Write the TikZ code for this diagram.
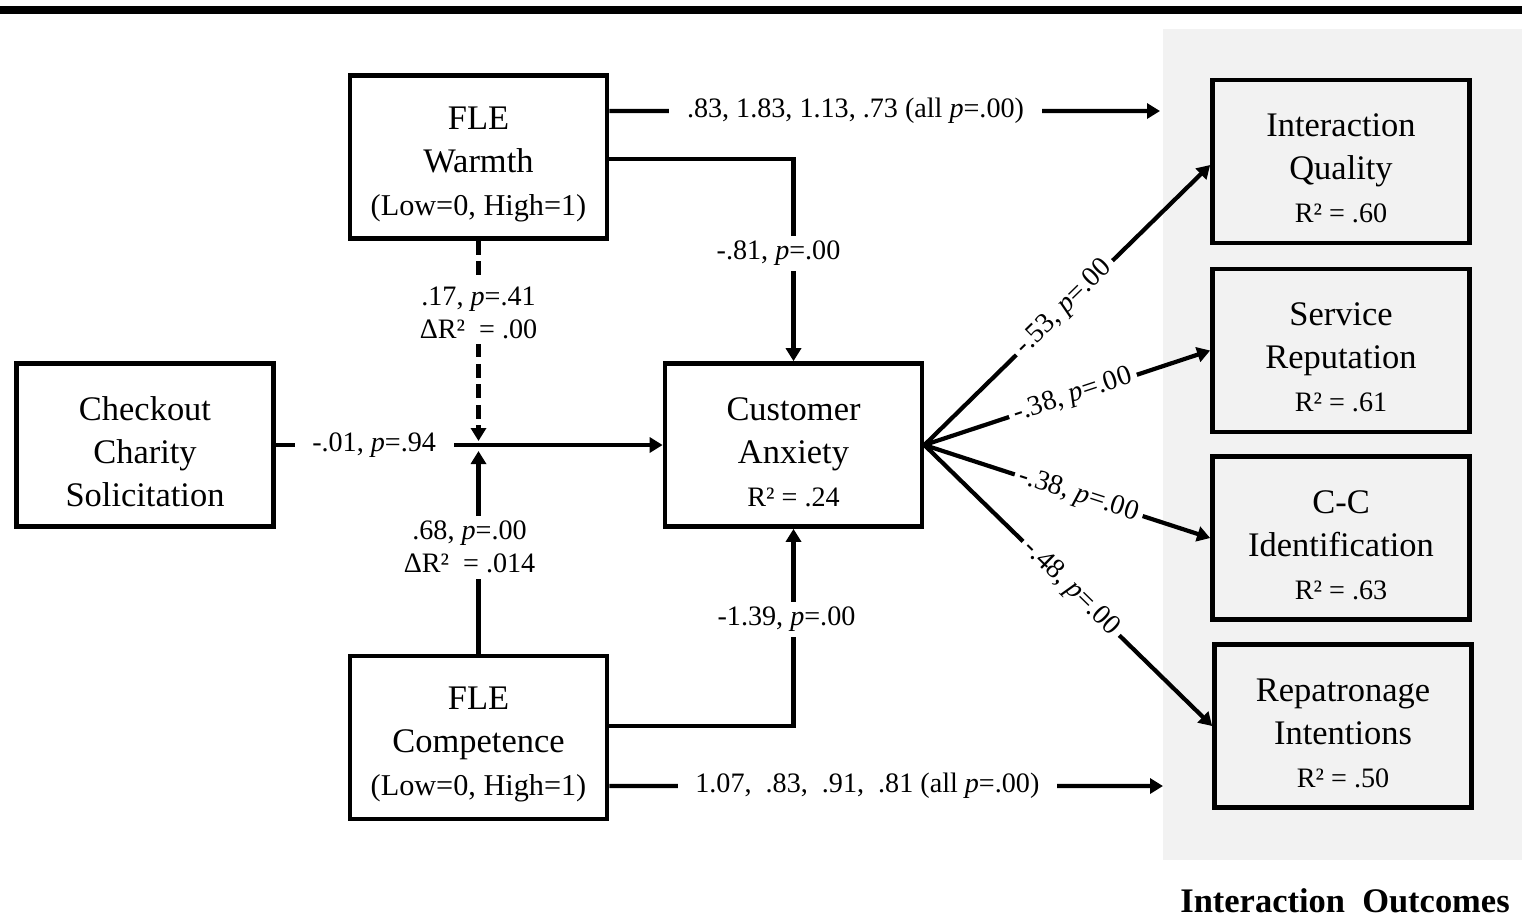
\documentclass[tikz,border=0pt]{standalone}
\usepackage{fontspec}
\setmainfont{Liberation Serif}
\usetikzlibrary{arrows.meta,calc}
\definecolor{panel}{RGB}{242,242,242}
\newcommand\myboxfont{\fontsize{9.8}{12.2}\selectfont}
\newcommand\mysubfont{\fontsize{8.6}{11}\selectfont}
\newcommand\myrfont{\fontsize{8}{11}\selectfont}
\newcommand\mylabfont{\fontsize{8}{9.4}\selectfont}
\newcommand\mytopstrut{\rule{0pt}{10.5pt}}
\begin{document}
\begin{tikzpicture}[x=0.01cm,y=-0.01cm,
  box/.style={draw, line width=1.3pt, minimum width=2.57cm, minimum height=1.63cm,
    align=center, font=\myboxfont, inner sep=0pt},
  conn/.style={line width=1.2pt},
  tip/.style={-{Triangle[length=0.13cm,width=0.15cm]}},
  lab/.style={fill=white, font=\mylabfont, align=center, inner xsep=5pt, inner ysep=1.5pt},
  slab/.style={fill=white, font=\mylabfont, sloped, inner xsep=1.5pt, inner ysep=1pt}]
\useasboundingbox (0,0) rectangle (1522,917);
\fill (0,6) rectangle (1522,14);
\fill[panel] (1163,29) rectangle (1522,860);

\node[box] (warmth) at (478.5,157) {\mytopstrut FLE\\Warmth\\{\mysubfont (Low=0, High=1)}};
\node[box] (checkout) at (145,445) {\mytopstrut Checkout\\Charity\\Solicitation};
\node[box] (anxiety) at (793.5,445) {\mytopstrut Customer\\Anxiety\\{\myrfont R² = .24}};
\node[box] (competence) at (478.5,737.5) {\mytopstrut FLE\\Competence\\{\mysubfont (Low=0, High=1)}};
\node[box] (iq) at (1341,161.5) {\mytopstrut Interaction\\Quality\\{\myrfont R² = .60}};
\node[box] (sr) at (1341,350.5) {\mytopstrut Service\\Reputation\\{\myrfont R² = .61}};
\node[box] (cc) at (1341,538) {\mytopstrut C-C\\Identification\\{\myrfont R² = .63}};
\node[box] (rp) at (1343,726) {\mytopstrut Repatronage\\Intentions\\{\myrfont R² = .50}};

\node[font=\fontsize{9.8}{12}\selectfont\bfseries] (outcomes) at (1345,901) {Interaction\ \ Outcomes};

\coordinate (topend) at (1160,111);
\coordinate (botend) at (1163,786);
\coordinate (Jt) at (478.5,441);
\coordinate (Jb) at (478.5,451);

% warmth -> outcomes
\draw[conn,tip] ([yshift=0.46cm]warmth.east) -- node[lab,pos=0.447]{.83, 1.83, 1.13, .73 (all \textit{p}=.00)} (topend);
% warmth -> anxiety
\draw[conn,tip] ([yshift=-0.02cm]warmth.east) -| node[lab,pos=0.734,xshift=-0.15cm]{-.81, \textit{p}=.00} (anxiety.north);
% moderation warmth (dashed)
\draw[conn,tip,dash pattern=on 0.14cm off 0.065cm] (warmth.south) -- node[lab,pos=0.358]{.17, \textit{p}=.41\\ΔR²\ \ = .00} (Jt);
% checkout -> anxiety
\draw[conn,tip] (checkout.east) -- node[lab,pos=0.254]{-.01, \textit{p}=.94} (anxiety.west);
% moderation competence
\draw[conn,tip] (competence.north) -- node[lab,pos=0.525,xshift=-0.09cm]{.68, \textit{p}=.00\\ΔR²\ \ = .014} (Jb);
% competence -> anxiety
\draw[conn,tip] ([yshift=0.115cm]competence.east) -| node[lab,pos=0.77,xshift=-0.07cm]{-1.39, \textit{p}=.00} (anxiety.south);
% competence -> outcomes
\draw[conn,tip] ([yshift=-0.485cm]competence.east) -- node[lab,pos=0.466]{1.07, \ .83, \ .91, \ .81 (all \textit{p}=.00)} (botend);

% anxiety -> outcomes
\draw[conn,tip] (anxiety.east) -- node[slab,pos=0.49]{-.53, \textit{p}=.00} ([yshift=-0.035cm]iq.west);
\draw[conn,tip] (anxiety.east) -- node[slab,pos=0.52]{-.38, \textit{p}=.00} (sr.west);
\draw[conn,tip] (anxiety.east) -- node[slab,pos=0.54]{-.38, \textit{p}=.00} (cc.west);
\draw[conn,tip] (anxiety.east) -- node[slab,pos=0.51]{-.48, \textit{p}=.00} (rp.west);
\end{tikzpicture}
\end{document}
